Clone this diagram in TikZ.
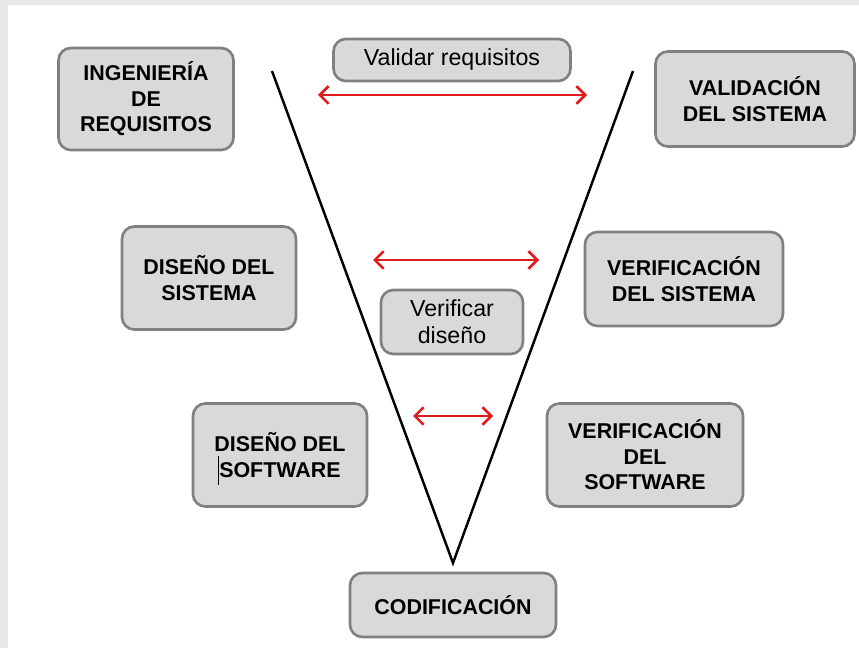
\documentclass[tikz,border=0pt]{standalone}
\usepackage{fontspec}
\setmainfont{Liberation Sans}
\usepackage{tikz}
\usetikzlibrary{arrows.meta, positioning, calc}

\definecolor{boxfill}{HTML}{D9D9D9}
\definecolor{boxline}{HTML}{808080}
\definecolor{arrred}{HTML}{E01B1B}
\definecolor{margin}{HTML}{E8E8E8}

\begin{document}
\begin{tikzpicture}[
    x=0.02cm, y=-0.02cm,
    fase/.style={draw=boxline, fill=boxfill, line width=1.5pt, rounded corners=7pt,
                 align=center, inner sep=0pt,
                 font=\bfseries\fontsize{12.2}{14.5}\selectfont}, % caja de fase
    nota/.style={fase, font=\fontsize{13.2}{15.5}\selectfont},      % caja de nota
    vline/.style={black, line width=1.4pt},                         % lineas de la V
    flecha/.style={arrred, line width=1.5pt, {Straight Barb[length=5pt,width=10pt]}-{Straight Barb[length=5pt,width=10pt]}}
]
    % 0. fondo y margen
    \useasboundingbox (0,0) rectangle (859,648);
    \fill[margin] (0,0) rectangle (859,648);
    \fill[white] (8,5) rectangle (859,648);

    % 1. cajas de las fases
    \node[fase, minimum width=3.5cm, minimum height=2.04cm] (ingreq) at (146,99) {INGENIERÍA\\DE\\REQUISITOS};
    \node[fase, minimum width=3.98cm, minimum height=1.9cm] (valsis) at (755,99) {VALIDACIÓN\\DEL SISTEMA};
    \node[fase, minimum width=3.48cm, minimum height=2.06cm] (dissis) at (209,278) {DISEÑO DEL\\SISTEMA};
    \node[fase, minimum width=3.96cm, minimum height=1.88cm] (versis) at (684,279) {VERIFICACIÓN\\DEL SISTEMA};
    \node[fase, minimum width=3.48cm, minimum height=2.06cm] (dissw) at (280,455) {DISEÑO DEL\\SOFTWARE};
    \node[fase, minimum width=3.92cm, minimum height=2.06cm] (versw) at (645,455) {VERIFICACIÓN\\DEL\\SOFTWARE};
    \node[fase, minimum width=4.12cm, minimum height=1.28cm] (codif) at (453,605) {CODIFICACIÓN};

    % 2. notas
    \node[nota, minimum width=4.74cm, minimum height=0.84cm] (valreq) at (452,60) {Validar requisitos};
    \node[nota, minimum width=2.84cm, minimum height=1.28cm] (verdis) at (452,322) {Verificar\\diseño};

    % 3. la V
    \coordinate (vizq) at (272,71);
    \coordinate (vder) at (633,71);
    \coordinate (vfondo) at (453,563);
    \draw[vline] (vizq) -- (vfondo) -- (vder);

    % 4. flechas rojas
    \coordinate (a1) at (318,95);  \coordinate (b1) at (587,95);
    \coordinate (a2) at (373,260); \coordinate (b2) at (539,260);
    \coordinate (a3) at (413,416); \coordinate (b3) at (493,416);
    \draw[flecha] (a1) -- (b1);
    \draw[flecha] (a2) -- (b2);
    \draw[flecha] (a3) -- (b3);

    % cursor de texto
    \draw[black, line width=0.5pt] (218,456) -- (218,485);
\end{tikzpicture}
\end{document}
